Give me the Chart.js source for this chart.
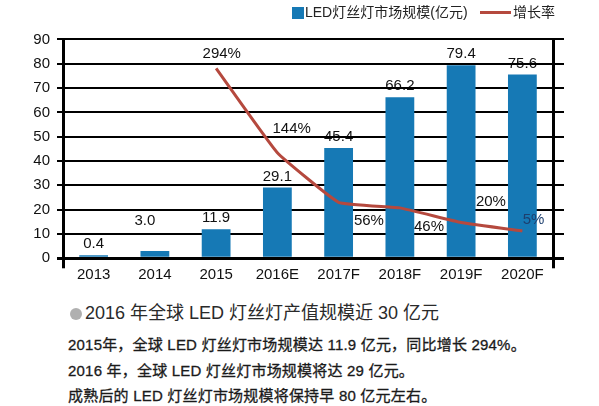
<!DOCTYPE html>
<html><head><meta charset="utf-8">
<script src="https://cdn.jsdelivr.net/npm/chart.js@4.4.0/dist/chart.umd.min.js"></script>
<style>
html,body{margin:0;padding:0;background:#fff;width:599px;height:406px;overflow:hidden;font-family:"Liberation Sans","Noto Sans CJK SC",sans-serif;color:#222;}
#wrap{position:absolute;left:0;top:0;width:599px;height:290px;}
.abs{position:absolute;white-space:nowrap;}
.lg{top:0;line-height:24px;font-size:14px;color:#222;}
.sq{left:292px;top:7px;width:12px;height:12px;background:#1679b5;}
.ln{left:480px;top:11px;width:31px;height:3px;background:#b5493e;}
.head{left:70px;top:301px;line-height:24px;font-size:18px;color:#2a2a2a;}
.dot{display:inline-block;width:12px;height:12px;border-radius:50%;background:#b0b0b0;margin-right:3px;vertical-align:-1px;}
.body{left:68px;top:332px;line-height:25.5px;font-size:15px;color:#1a1a1a;-webkit-text-stroke:0.3px #1a1a1a;letter-spacing:0.2px;}
</style></head>
<body>
<div id="wrap"><canvas id="c" width="599" height="290"></canvas></div>
<div class="abs sq"></div>
<div class="abs lg" style="left:305px;">LED灯丝灯市场规模(亿元)</div>
<div class="abs ln"></div>
<div class="abs lg" style="left:513px;">增长率</div>
<div class="abs head"><span class="dot"></span>2016 年全球 LED 灯丝灯产值规模近 30 亿元</div>
<div class="abs body">2015年，全球 LED 灯丝灯市场规模达 11.9 亿元，同比增长 294%。<br>2016 年，全球 LED 灯丝灯市场规模将达 29 亿元。<br>成熟后的 LED 灯丝灯市场规模将保持早 80 亿元左右。</div>
<script>
const categories = ['2013','2014','2015','2016E','2017F','2018F','2019F','2020F'];
const marketSize = [0.4, 3.0, 11.9, 29.1, 45.4, 66.2, 79.4, 75.6];
const growthRate = [null, null, 294, 144, 56, 46, 20, 5];
const yMin = 0, yMax = 90, yStep = 10;

const FONT = '"Liberation Sans","Noto Sans CJK SC",sans-serif';
const barLabelOffsets = {1: [-10, -30]};
const barLabelDefault = [0, -11];
const rateLabelOffsets = {2:[5.6,-14.5],3:[14.3,-23.5],4:[30.3,18.8],5:[29.1,18.7],6:[29.8,-20.9],7:[11.1,-11.5]};
const rateLabelColors = {7:'#1d3f6e'};

const labelPlugin = {
  id: 'labels',
  beforeDraw(chart) {
    const ctx = chart.ctx;
    const meta = chart.getDatasetMeta(1);
    ctx.save();
    ctx.font = '15px ' + FONT;
    ctx.fillStyle = '#111';
    ctx.textAlign = 'center';
    ctx.textBaseline = 'middle';
    meta.data.forEach((el, i) => {
      const o = barLabelOffsets[i] || barLabelDefault;
      ctx.fillText(marketSize[i].toFixed(1), el.x + o[0], el.y + o[1]);
    });
    ctx.restore();
  },
  afterDatasetsDraw(chart) {
    const ctx = chart.ctx;
    const meta = chart.getDatasetMeta(0);
    ctx.save();
    ctx.font = '15px ' + FONT;
    ctx.textAlign = 'center';
    ctx.textBaseline = 'middle';
    meta.data.forEach((el, i) => {
      if (growthRate[i] == null) return;
      const o = rateLabelOffsets[i] || [0, -15];
      ctx.fillStyle = rateLabelColors[i] || '#111';
      ctx.fillText(growthRate[i] + '%', el.x + o[0], el.y + o[1]);
    });
    ctx.restore();
  }
};

const gridW = c => (c.tick && c.tick.value === 0) ? 3 : 2;

new Chart(document.getElementById('c'), {
  data: {
    labels: categories,
    datasets: [
      { type: 'line', label: '增长率', data: growthRate, yAxisID: 'y1', borderColor: '#b5493e', borderWidth: 3, pointRadius: 0, tension: 0.1, spanGaps: false, order: 0 },
      { type: 'bar', label: 'LED灯丝灯市场规模(亿元)', data: marketSize, yAxisID: 'y', backgroundColor: '#1679b5', categoryPercentage: 1, barPercentage: 0.47, minBarLength: 3, order: 1 }
    ]
  },
  options: {
    responsive: false,
    animation: false,
    layout: { padding: { top: 39.4, right: 35, bottom: 0, left: 0 } },
    plugins: { legend: { display: false }, tooltip: { enabled: false } },
    scales: {
      x: {
        grid: { offset: true, color: c => (c.index === 0 || c.index === undefined) ? '#000' : 'rgba(0,0,0,0)', lineWidth: 3, tickLength: 10 },
        border: { display: true, color: '#000', width: 3 },
        ticks: { font: { size: 15, family: FONT }, color: '#111', padding: -2, maxRotation: 0, autoSkip: false },
        afterFit: s => { s.height = 290 - 258.3; }
      },
      y: {
        min: yMin, max: yMax,
        ticks: { stepSize: yStep, font: { size: 15, family: FONT }, color: '#111', padding: 7 },
        grid: { color: '#000', lineWidth: gridW, tickLength: 6 },
        border: { display: false },
        afterFit: s => { s.width = 63; }
      },
      yr: {
        type: 'linear', position: 'right', min: yMin, max: yMax,
        ticks: { stepSize: yStep, display: false },
        grid: { drawOnChartArea: false, color: '#000', lineWidth: gridW, tickLength: 11 },
        border: { display: false },
        afterFit: s => { s.width = 11; }
      },
      y1: { type: 'linear', display: false, min: -43.6, max: 345.5 }
    }
  },
  plugins: [labelPlugin]
});
</script>
</body></html>
